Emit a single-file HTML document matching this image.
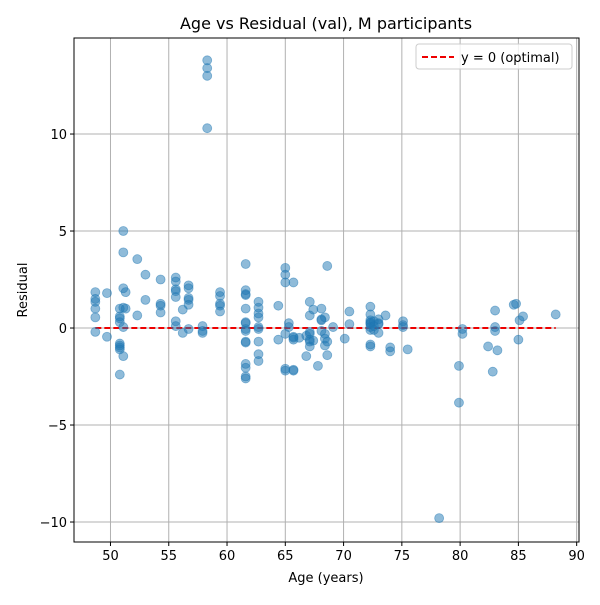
<!DOCTYPE html>
<html><head><meta charset="utf-8"><style>
body{margin:0;background:#fff;font-family:"Liberation Sans","DejaVu Sans",sans-serif}
svg text{font-family:"DejaVu Sans","Liberation Sans",sans-serif}
</style></head><body>
<svg id="chart" width="600" height="600" xmlns="http://www.w3.org/2000/svg">
<rect width="600" height="600" fill="#fff"/>
<g id="grid"></g>
<g id="line"></g>
<g id="pts"></g>
<rect x="74" y="38" width="505" height="504" fill="none" stroke="#000" stroke-width="1"/>
<g id="axes"></g>
<text x="326" y="29" text-anchor="middle" font-size="16">Age vs Residual (val), M participants</text>
<text x="326" y="582" text-anchor="middle" font-size="13">Age (years)</text>
<text transform="translate(27,290) rotate(-90)" text-anchor="middle" font-size="13">Residual</text>
<g>
<rect x="416" y="44" width="156" height="25" rx="3" fill="#fff" fill-opacity="0.8" stroke="#ccc"/>
<line x1="422" y1="57" x2="454" y2="57" stroke="#e00" stroke-width="2" stroke-dasharray="6,3"/>
<text x="461" y="62" font-size="13">y = 0 (optimal)</text>
</g>
</svg>
<script>
const ages=[48.7,48.7,48.7,48.7,48.7,48.7,49.7,49.7,50.8,50.8,50.8,50.8,50.8,50.8,50.8,50.8,50.8,51.1,51.1,51.1,51.1,51.1,51.1,51.3,51.3,52.3,52.3,53.0,53.0,54.3,54.3,54.3,54.3,55.6,55.6,55.6,55.6,55.6,55.6,55.6,56.2,56.2,56.7,56.7,56.7,56.7,56.7,56.7,57.9,57.9,57.9,58.3,58.3,58.3,58.3,59.4,59.4,59.4,59.4,59.4,61.6,61.6,61.6,61.6,61.6,61.6,61.6,61.6,61.6,61.6,61.6,61.6,61.6,61.6,61.6,62.7,62.7,62.7,62.7,62.7,62.7,62.7,62.7,62.7,64.4,64.4,65.0,65.0,65.0,65.0,65.0,65.0,65.3,65.3,65.7,65.7,65.7,65.7,65.7,65.7,66.2,66.8,66.8,67.1,67.1,67.1,67.1,67.1,67.1,67.1,67.4,67.4,67.8,68.1,68.1,68.1,68.1,68.4,68.4,68.4,68.4,68.6,68.6,68.6,69.1,70.1,70.5,70.5,72.3,72.3,72.3,72.3,72.3,72.3,72.3,72.3,72.3,72.3,72.6,72.6,72.6,73.0,73.0,73.0,73.0,73.6,74.0,74.0,75.1,75.1,75.1,75.5,78.2,79.9,79.9,80.2,80.2,82.4,82.8,83.0,83.0,83.0,83.2,84.6,84.8,85.0,85.1,85.4,88.2];
const resid=[1.85,1.5,1.35,1.0,0.55,-0.2,1.8,-0.45,1.0,0.6,0.5,0.3,-0.8,-0.9,-1.0,-1.1,-2.4,5.0,3.9,2.05,1.05,0.05,-1.45,1.85,1.0,3.55,0.65,2.75,1.45,2.5,1.25,1.15,0.8,2.6,2.4,2.0,1.9,1.6,0.35,0.1,0.95,-0.25,2.2,2.05,1.55,1.45,1.2,-0.05,0.1,-0.15,-0.25,13.8,13.4,13.0,10.3,1.85,1.65,1.25,1.15,0.85,3.3,1.95,1.75,1.7,1.0,0.3,0.25,-0.05,-0.15,-0.7,-0.75,-1.85,-2.05,-2.5,-2.6,1.35,1.05,0.75,0.55,0.05,-0.05,-0.7,-1.35,-1.7,1.15,-0.6,3.1,2.75,2.35,-2.1,-2.2,-0.3,0.25,0.05,2.35,-0.45,-0.5,-0.6,-2.15,-2.2,-0.5,-0.4,-1.45,1.35,0.65,-0.2,-0.3,-0.6,-0.7,-0.95,0.95,-0.65,-1.95,1.0,0.45,0.4,-0.15,0.55,-0.3,-0.55,-0.9,3.2,-0.7,-1.4,0.05,-0.55,0.85,0.2,1.1,0.7,0.4,0.3,0.25,0.2,0.05,-0.1,-0.85,-0.95,0.35,0.1,-0.1,0.45,0.25,0.2,-0.25,0.65,-1.0,-1.2,0.35,0.15,0.05,-1.1,-9.8,-1.95,-3.85,-0.05,-0.3,-0.95,-2.25,0.9,0.05,-0.15,-1.15,1.2,1.25,-0.6,0.4,0.6,0.7];
const xTicks=[50,55,60,65,70,75,80,85,90];
const yTicks=[-10,-5,0,5,10];
const NS='http://www.w3.org/2000/svg';
const X0=74,X1=579,Y0=38,Y1=542,xMin=46.87,xMax=90.2,yMin=-11.03,yMax=14.95;
const sx=v=>X0+(v-xMin)/(xMax-xMin)*(X1-X0);
const sy=v=>Y1-(v-yMin)/(yMax-yMin)*(Y1-Y0);
function mk(t,a,p){const e=document.createElementNS(NS,t);for(const k in a)e.setAttribute(k,a[k]);p.appendChild(e);return e;}
const grid=document.getElementById('grid'),axes=document.getElementById('axes');
xTicks.forEach(t=>{const x=sx(t);
const g=mk('line',{x1:x,x2:x,y1:Y0,y2:Y1,stroke:'#b0b0b0','stroke-width':1},grid);


mk('line',{x1:x,x2:x,y1:Y1,y2:Y1+4,stroke:'#000'},axes);
const l=mk('text',{x:x,y:Y1+18,'text-anchor':'middle','font-size':13},axes);l.textContent=t;

});
yTicks.forEach(t=>{const y=sy(t);
const g=mk('line',{x1:X0,x2:X1,y1:y,y2:y,stroke:'#b0b0b0','stroke-width':1},grid);


mk('line',{x1:X0-4,x2:X0,y1:y,y2:y,stroke:'#000'},axes);
const l=mk('text',{x:X0-7,y:y+5,'text-anchor':'end','font-size':13},axes);l.textContent=t<0?'\u2212'+(-t):t;

});
const pts=document.getElementById('pts');
ages.forEach((a,i)=>{const c=mk('circle',{cx:sx(a),cy:sy(resid[i]),r:4.5,fill:'#1f77b4','fill-opacity':0.5,stroke:'#1f77b4','stroke-opacity':0.5,'stroke-width':0.8},pts);

});
const minA=Math.min(...ages),maxA=Math.max(...ages);
const ln=mk('line',{x1:sx(minA),x2:sx(maxA),y1:sy(0),y2:sy(0),stroke:'#e00','stroke-width':2,'stroke-dasharray':'6,3'},document.getElementById('line'));


</script>
</body></html>
